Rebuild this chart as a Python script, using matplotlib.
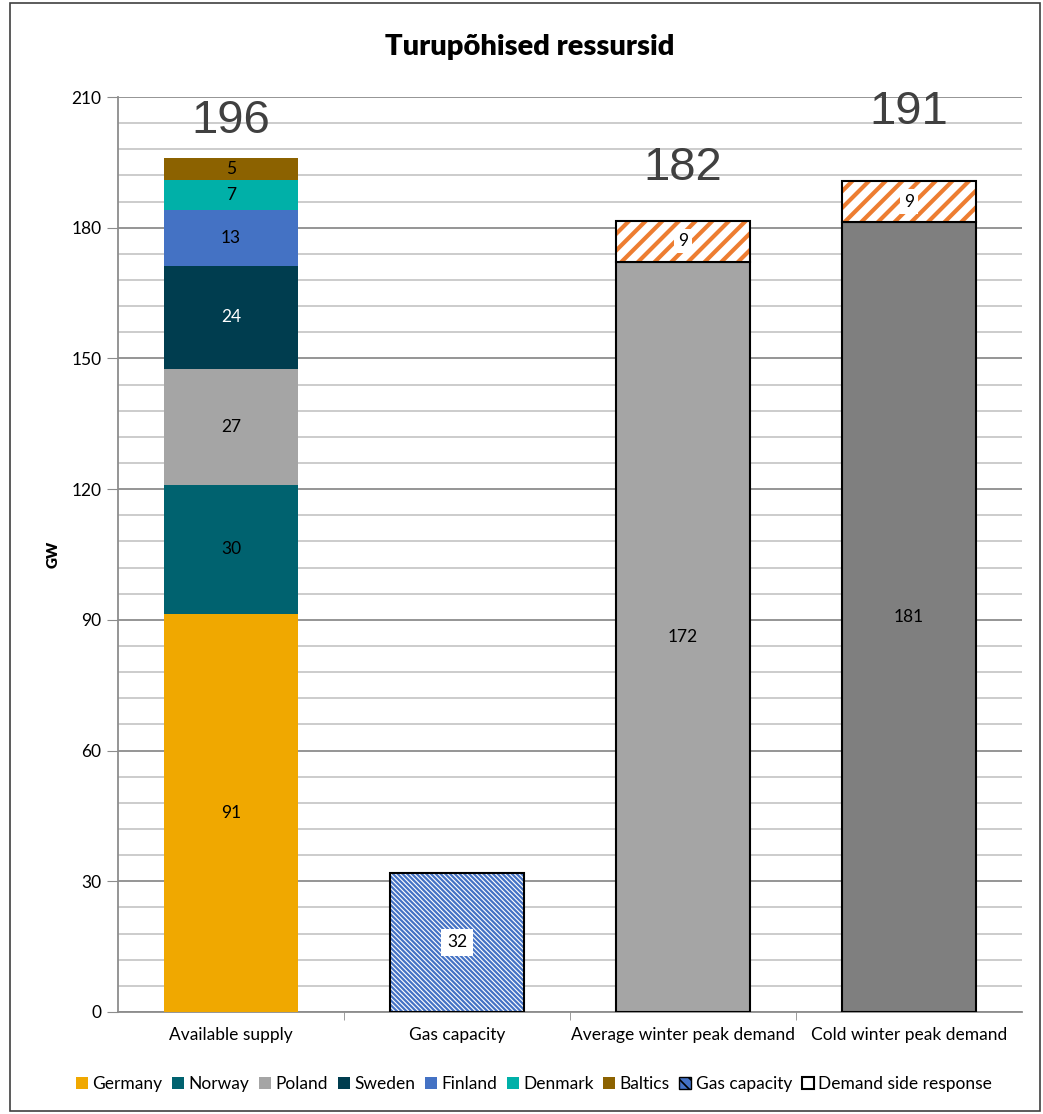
import matplotlib.pyplot as plt
from matplotlib.patches import Patch, Rectangle
from matplotlib.ticker import MultipleLocator

plt.rcParams['font.family'] = ['Lato', 'DejaVu Sans']

# -----------------------------------
# Data (GW)
# -----------------------------------
categories = ["Available supply", "Gas capacity",
              "Average winter peak demand", "Cold winter peak demand"]

countries = ["Germany", "Norway", "Poland", "Sweden", "Finland", "Denmark", "Baltics"]
country_supply = [91.4, 29.6, 26.6, 23.6, 12.9, 6.9, 4.9]
country_colors = ["#F0A800", "#00626F", "#A5A5A5", "#003D4F", "#4472C4", "#00B0A8", "#8C6200"]

gas_capacity = 31.9

peak_demand = [172.2, 181.3]
demand_side_response = [9.4, 9.4]
demand_colors = ["#A5A5A5", "#7F7F7F"]

totals = [sum(country_supply)] + [d + r for d, r in zip(peak_demand, demand_side_response)]

fig = plt.figure(figsize=(10.43, 11.14), dpi=100)
ax = fig.add_axes([0.1131, 0.0916, 0.8669, 0.8213])

width = 0.59
x = range(len(categories))
fs = 12.5

# Stacked supply bar
bottom = 0
for name, val, col in zip(countries, country_supply, country_colors):
    ax.bar(x[0], val, width, bottom=bottom, color=col, zorder=3)
    txt_col = "white" if name == "Sweden" else "black"
    ax.text(x[0], bottom + val / 2, f"{val:.0f}", ha="center", va="center",
            fontsize=fs, color=txt_col, zorder=5)
    bottom += val

# Gas capacity (hatched)
plt.rcParams['hatch.linewidth'] = 1.6
ax.bar(x[1], gas_capacity, width, color="white", edgecolor="#4472C4",
       hatch="\\\\\\\\\\\\\\", linewidth=0, zorder=3)
ax.bar(x[1], gas_capacity, width, fill=False, edgecolor="black", linewidth=1.5, zorder=4)
ax.text(x[1], gas_capacity / 2, f"{gas_capacity:.0f}", ha="center", va="center",
        fontsize=fs, zorder=5, bbox=dict(facecolor="white", edgecolor="none", pad=4))

# Peak demand + demand side response
plt.rcParams['hatch.linewidth'] = 3.0
for i, (d, r, col) in enumerate(zip(peak_demand, demand_side_response, demand_colors)):
    xi = x[2 + i]
    ax.bar(xi, d, width, color=col, edgecolor="black", linewidth=1.5, zorder=3)
    ax.text(xi, d / 2, f"{d:.0f}", ha="center", va="center", fontsize=fs, zorder=5)
    ax.bar(xi, r, width, bottom=d, color="white", edgecolor="#ED7D31",
           hatch="//", linewidth=0, zorder=3)
    ax.bar(xi, r, width, bottom=d, fill=False, edgecolor="black", linewidth=1.5, zorder=4)
    ax.text(xi, d + r / 2, f"{r:.0f}", ha="center", va="center", fontsize=fs, zorder=5,
            bbox=dict(facecolor="white", edgecolor="none", pad=3))

# Totals above bars
total_x = [x[0], x[2], x[3]]
total_offsets = [27, 38, 50]
for xi, t, off in zip(total_x, totals, total_offsets):
    ax.annotate(f"{t:.0f}", (xi, t), xytext=(0, off), textcoords="offset points",
                ha="center", va="center", fontsize=34, color="#404040",
                family="Liberation Sans", zorder=5)

# Axes styling
ax.set_xlim(-0.5, 3.5)
ax.set_ylim(0, 210)
ax.yaxis.set_major_locator(MultipleLocator(30))
ax.yaxis.set_minor_locator(MultipleLocator(6))
ax.grid(axis="y", which="major", color="#8C8C8C", linewidth=1.3, zorder=0)
ax.grid(axis="y", which="minor", color="#C8C8C8", linewidth=1.3, zorder=0)
ax.set_xticks(list(x))
ax.set_xticklabels(categories, fontsize=fs)
ax.set_xticks([0.5, 1.5, 2.5], minor=True)
ax.tick_params(axis="x", which="major", length=0, pad=11)
ax.tick_params(axis="x", which="minor", length=6, color="#8C8C8C")
ax.tick_params(axis="y", which="major", length=8, color="#8C8C8C", labelsize=fs, pad=4)
ax.tick_params(axis="y", which="minor", length=0)
for side in ["top", "right"]:
    ax.spines[side].set_visible(False)
ax.spines["left"].set_color("#8C8C8C")
ax.spines["bottom"].set_color("#8C8C8C")
ax.spines["left"].set_linewidth(1.3)
ax.spines["bottom"].set_linewidth(1.3)
ax.set_ylabel("GW", fontsize=11, fontweight="heavy", labelpad=8)

fig.text(0.508, 0.958, "Turupõhised ressursid", ha="center", va="center",
         fontsize=21, fontweight="heavy")

# Legend
plt.rcParams['hatch.linewidth'] = 1.2
handles = [Patch(facecolor=c, label=n) for n, c in zip(countries, country_colors)]
handles.append(Patch(facecolor="#4472C4", edgecolor="black", hatch="\\\\\\", label="Gas capacity"))
handles.append(Patch(facecolor="white", edgecolor="black", linewidth=1.5, label="Demand side response"))
fig.legend(handles=handles, loc="center", bbox_to_anchor=(0.512, 0.027), ncol=9,
           frameon=False, fontsize=fs, handlelength=0.7, handleheight=0.7,
           handletextpad=0.25, columnspacing=0.55)

# Chart border
fig.patches.append(Rectangle((0.01, 0.003), 0.987, 0.994, transform=fig.transFigure,
                             fill=False, edgecolor="#404040", linewidth=1.2))

fig.savefig("out.png", dpi=100)
